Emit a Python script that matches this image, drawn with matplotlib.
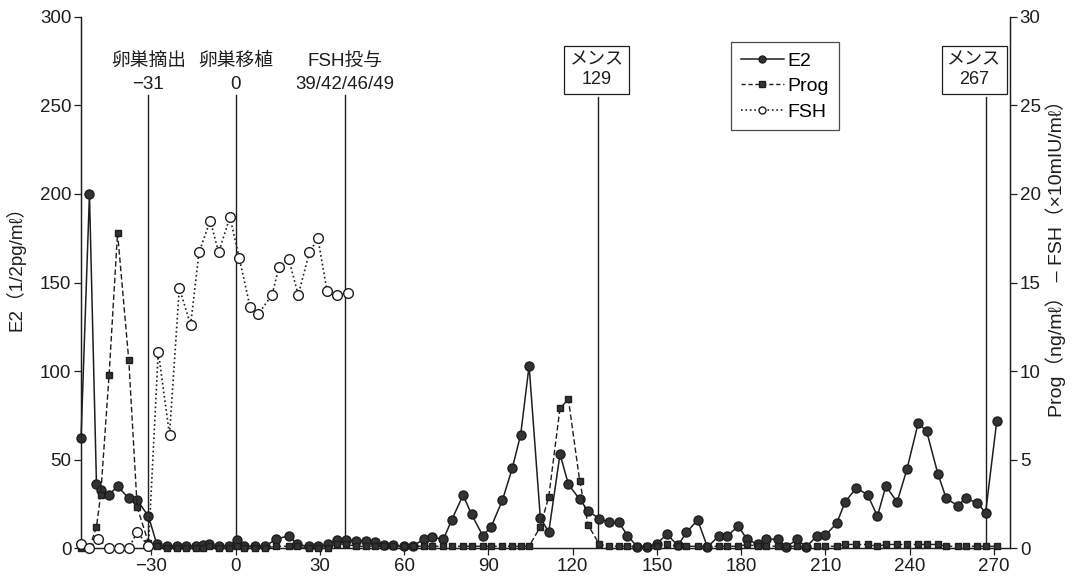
import matplotlib.pyplot as plt
from matplotlib.lines import Line2D

plt.rcParams['font.family'] = ['Liberation Sans', 'Noto Sans CJK JP', 'DejaVu Sans']

# sampling days shared by E2 and Prog
days = [-55, -52, -49.5, -48, -45, -42, -38, -35, -31, -28, -24.5, -21, -17.5, -14,
        -11.5, -9.5, -6, -2.5, 0.5, 3, 7, 10.5, 14.5, 19, 22, 26, 29.5, 33, 36, 39.5,
        43, 46.5, 49.5, 53, 56, 60, 63, 67, 70, 74, 77, 81, 84, 88, 91, 95, 98.5,
        101.5, 104.5, 108.5, 111.5, 115.5, 118.5, 122.5, 125.5, 129.5, 133, 136.5,
        139.5, 143, 146.5, 150, 153.5, 157.5, 160.5, 164.5, 168, 172, 175, 179, 182,
        186, 189, 193, 196, 200, 203, 207, 210, 214, 217, 221, 225, 228.5, 231.5,
        235.5, 239, 243, 246, 250, 253, 257, 260, 264, 267, 271]

e2 = [62, 200, 36, 33, 30, 35, 28, 27, 18, 2, 1, 1, 1, 1,
      1.5, 2, 1, 1, 4.5, 1, 1, 1, 5, 7, 2, 1, 1, 2, 4.5, 4.5,
      4, 4, 3.5, 1.5, 1.5, 1, 1, 5, 6, 5, 16, 30, 19, 7, 12, 27, 45,
      64, 103, 17, 9, 53, 36, 27.5, 21, 16.5, 14.5, 14.5,
      7, 0.7, 0.7, 2.5, 7.7, 1.5, 8.8, 15.8, 0.5, 6.8, 6.8, 12.4, 5,
      2, 5, 5, 0.5, 5, 0.5, 6.8, 7.3, 14, 26, 34, 30, 18, 35,
      26, 44.5, 70.5, 66, 42, 28, 24, 28, 25.5, 20, 72]

prog = [0, 0, 1.2, 3.0, 9.8, 17.8, 10.6, 2.3, 0.3, 0.1, 0, 0, 0, 0,
        0, 0.1, 0, 0, 0.1, 0, 0, 0, 0.1, 0.1, 0.1, 0, 0, 0, 0.2, 0.2,
        0.1, 0.1, 0.1, 0.1, 0.1, 0.1, 0.1, 0.1, 0.1, 0.1, 0.1, 0.1, 0.1, 0.1, 0.1, 0.1, 0.1,
        0.1, 0.1, 1.2, 2.9, 7.9, 8.4, 3.8, 1.3, 0.2, 0.1, 0.1,
        0.1, 0.1, 0.1, 0.1, 0.2, 0.1, 0.1, 0.1, 0.1, 0.1, 0.1, 0.1, 0.2,
        0.1, 0.1, 0.1, 0.1, 0.1, 0.1, 0.1, 0.1, 0.1, 0.2, 0.2, 0.2, 0.1, 0.2,
        0.2, 0.2, 0.2, 0.2, 0.2, 0.1, 0.1, 0.1, 0.1, 0.1, 0.1]

fsh_days = [-55, -52, -49, -45, -41.5, -38, -35, -31, -27.5, -23.5, -20, -16, -13, -9,
            -6, -2, 1.3, 5.2, 8, 13, 15.5, 19, 22.3, 26.3, 29.3, 32.6, 36.2, 40]
fsh = [0.2, 0, 0.5, 0, 0, 0, 0.9, 0.1, 11.1, 6.4, 14.7, 12.6, 16.7, 18.5,
       16.7, 18.7, 16.4, 13.6, 13.2, 14.3, 15.9, 16.3, 14.3, 16.7, 17.5, 14.5, 14.3, 14.4]

# event markers
events = [-31, 0, 39]
event_titles = ['卵巣摘出', '卵巣移植', 'FSH投与']
event_days = ['\u221231', '0', '39/42/46/49']
mens = [129, 267]

ink = '#1e1e1e'
fig = plt.figure(figsize=(10.76, 5.82), dpi=100)
ax = fig.add_axes([0.0753, 0.0584, 0.8634, 0.9124])
ax2 = ax.twinx()

ax.plot(days, e2, '-', color=ink, lw=1.1, marker='o', ms=6.5, mfc='#333', mec=ink,
        clip_on=False, zorder=4)
ax2.plot(days, prog, '--', color=ink, lw=1.0, dashes=(4, 2), marker='s', ms=4.5,
         mfc='#333', mec=ink, clip_on=False, zorder=3)
ax2.plot(fsh_days, fsh, ':', color=ink, lw=1.2, marker='o', ms=7, mfc='white',
         mec=ink, mew=1.0, clip_on=False, zorder=3)

ax.set_xlim(-55, 275.7)
ax.set_ylim(0, 300)
ax2.set_ylim(0, 30)
ax.set_xticks(range(-30, 271, 30))
ax.set_xticklabels([str(v).replace('-', '\u2212') for v in range(-30, 271, 30)])
ax.set_yticks(range(0, 301, 50))
ax2.set_yticks(range(0, 31, 5))

for a in (ax, ax2):
    a.spines['top'].set_visible(False)
    a.tick_params(labelsize=13.5, length=5, width=0.9, color=ink, labelcolor=ink, pad=2)
    for s in a.spines.values():
        s.set_linewidth(0.9)
        s.set_color(ink)

ax.set_ylabel('E2（1/2pg/m\u2113）', fontsize=13.5, color=ink)
ax2.set_ylabel('Prog（ng/m\u2113） \u2013 FSH（\u00d710mIU/m\u2113）', fontsize=14,
               color=ink)
ax.yaxis.set_label_coords(-0.06, 0.535)
ax2.yaxis.set_label_coords(1.038, 0.555)

for d, t1, t2 in zip(events, event_titles, event_days):
    ax.plot([d, d], [0, 256], color=ink, lw=1.0, zorder=2)
    ax.text(d, 275, t1, ha='center', va='center', fontsize=13.5, color=ink)
    ax.text(d, 262, t2, ha='center', va='center', fontsize=13.5, color=ink)

for d, shift in zip(mens, [-0.5, -4]):
    ax.plot([d, d], [0, 255], color=ink, lw=1.0, zorder=2)
    ax.text(d + shift, 270, 'メンス\n' + str(d), ha='center', va='center', fontsize=13,
            color=ink, linespacing=1.2,
            bbox=dict(boxstyle='square,pad=0.3', fc='white', ec=ink, lw=0.9))

handles = [
    Line2D([], [], color=ink, lw=1.1, marker='o', ms=5, mfc='#333'),
    Line2D([], [], color=ink, lw=1.0, ls='--', dashes=(3, 2), marker='s', ms=4, mfc='#333'),
    Line2D([], [], color=ink, lw=1.2, ls=':', marker='o', ms=5, mfc='white'),
]
leg = ax2.legend(handles, ['E2', 'Prog', 'FSH'], loc='upper left',
                 bbox_to_anchor=(0.7, 0.952), fontsize=14, frameon=True,
                 fancybox=False, handlelength=2.2, handletextpad=0.2,
                 borderpad=0.5, labelspacing=0.4, borderaxespad=0)
leg.get_frame().set_edgecolor(ink)
leg.get_frame().set_linewidth(0.9)

fig.savefig('out.png', dpi=100)
